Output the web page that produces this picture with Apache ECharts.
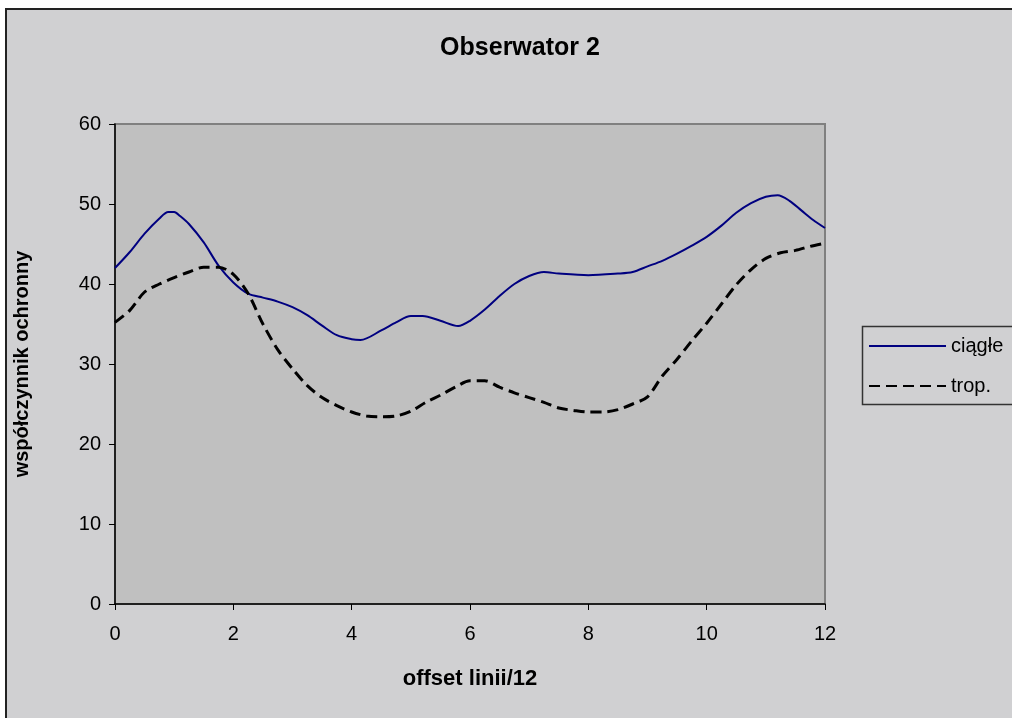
<!DOCTYPE html>
<html>
<head>
<meta charset="utf-8">
<script src="https://cdn.jsdelivr.net/npm/echarts@6/dist/echarts.min.js"></script>
<style>
  html, body { margin: 0; padding: 0; background: #ffffff; }
  #chart { width: 1012px; height: 718px; }
</style>
</head>
<body>
<div id="chart"></div>
<script>
// Offset positions (offset linii/12) and coefficients for each series
const xCiagle = [0, 0.25, 0.5, 0.75, 0.9, 1.0, 1.1, 1.25, 1.5, 1.75, 2.0, 2.25, 2.5, 2.75, 3.0, 3.25, 3.5, 3.75, 4.0, 4.15, 4.5, 4.75, 5.0, 5.2, 5.5, 5.8, 6.0, 6.25, 6.5, 6.75, 7.0, 7.25, 7.5, 8.0, 8.5, 8.75, 9.0, 9.25, 9.5, 9.75, 10.0, 10.25, 10.5, 10.75, 11.0, 11.2, 11.4, 11.6, 11.8, 12];
const yCiagle = [42, 44, 46.3, 48.2, 49, 49, 48.5, 47.5, 45.2, 42.3, 40.2, 38.8, 38.3, 37.8, 37.1, 36.1, 34.8, 33.6, 33.1, 33.0, 34.2, 35.2, 36, 36, 35.4, 34.75, 35.4, 36.8, 38.5, 40, 41, 41.5, 41.3, 41.1, 41.3, 41.5, 42.2, 42.9, 43.8, 44.8, 45.9, 47.3, 48.9, 50.1, 50.9, 51.1, 50.4, 49.2, 48, 47];

const xTrop = [0, 0.25, 0.5, 0.75, 1.0, 1.25, 1.5, 1.75, 2.0, 2.25, 2.5, 2.75, 3.0, 3.25, 3.5, 3.75, 4.0, 4.25, 4.5, 4.75, 5.0, 5.25, 5.5, 5.75, 6.0, 6.25, 6.5, 6.75, 7.0, 7.25, 7.5, 7.75, 8.0, 8.25, 8.5, 8.75, 9.0, 9.25, 9.5, 9.75, 10.0, 10.25, 10.5, 10.75, 11.0, 11.25, 11.5, 11.75, 12];
const yTrop = [35.2, 36.7, 39.0, 40.0, 40.8, 41.5, 42.1, 42.1, 41.2, 38.8, 35.0, 31.8, 29.4, 27.3, 25.8, 24.8, 24.0, 23.5, 23.4, 23.5, 24.1, 25.2, 26.1, 27.1, 27.9, 27.9, 27.1, 26.4, 25.8, 25.2, 24.5, 24.2, 24.0, 24.0, 24.3, 25.0, 25.9, 28.5, 30.6, 32.9, 35.1, 37.5, 39.9, 41.8, 43.2, 43.9, 44.2, 44.7, 45.1];

const xTicks = [0, 2, 4, 6, 8, 10, 12];
const yTicks = [0, 10, 20, 30, 40, 50, 60];

const chartTitle = 'Obserwator 2';
const xName = 'offset linii/12';
const yName = 'współczynnik ochronny';
const seriesNames = ['ciągłe', 'trop.'];

const pairs = (xs, ys) => xs.map((x, i) => [x, ys[i]]);

const FONT = '"Liberation Sans", Arial, sans-serif';
const BG = '#D0D0D2';

const chart = echarts.init(document.getElementById('chart'));
chart.setOption({
  backgroundColor: '#ffffff',
  animation: false,
  textStyle: { fontFamily: FONT, color: '#000' },
  graphic: [
    {
      // chart-area frame
      type: 'rect', z: -10, silent: true,
      shape: { x: 6, y: 9, width: 1020, height: 720 },
      style: { fill: BG, stroke: '#222', lineWidth: 2 }
    },
    {
      // legend box
      type: 'rect', z: 5, silent: true,
      shape: { x: 862.5, y: 326.5, width: 170, height: 78 },
      style: { fill: BG, stroke: '#333', lineWidth: 1.5 }
    }
  ],
  title: {
    text: chartTitle,
    left: 515,
    top: 31,
    textAlign: 'center',
    textStyle: { fontFamily: FONT, fontSize: 25, fontWeight: 'bold', color: '#000' }
  },
  legend: {
    orient: 'vertical',
    left: 868,
    top: 336,
    z: 10,
    itemWidth: 77,
    itemHeight: 20,
    itemGap: 20,
    padding: 0,
    data: seriesNames,
    itemStyle: { opacity: 0 },
    textStyle: { fontFamily: FONT, fontSize: 20, color: '#000', padding: [0, 0, 0, 0] }
  },
  grid: {
    left: 115,
    right: 187,
    top: 124,
    bottom: 114,
    show: true,
    backgroundColor: '#C0C0C0',
    borderColor: '#808080',
    borderWidth: 2
  },
  xAxis: {
    type: 'value',
    min: xTicks[0],
    max: xTicks[xTicks.length - 1],
    interval: 2,
    name: xName,
    nameLocation: 'middle',
    nameGap: 64,
    nameTextStyle: { fontFamily: FONT, fontSize: 22, fontWeight: 'bold', color: '#000' },
    axisLine: { show: true, onZero: false, lineStyle: { color: '#000', width: 1.5 } },
    axisTick: { show: true, inside: false, length: 6, lineStyle: { color: '#000' } },
    axisLabel: { margin: 20, fontFamily: FONT, fontSize: 20, color: '#000' },
    splitLine: { show: false }
  },
  yAxis: {
    type: 'value',
    min: yTicks[0],
    max: yTicks[yTicks.length - 1],
    interval: 10,
    name: yName,
    nameLocation: 'middle',
    nameGap: 83,
    nameTextStyle: { fontFamily: FONT, fontSize: 20, fontWeight: 'bold', color: '#000' },
    axisLine: { show: true, lineStyle: { color: '#000', width: 1.5 } },
    axisTick: { show: true, inside: false, length: 6, lineStyle: { color: '#000' } },
    axisLabel: { margin: 14, fontFamily: FONT, fontSize: 20, color: '#000' },
    splitLine: { show: false }
  },
  series: [
    {
      name: seriesNames[0],
      type: 'line',
      data: pairs(xCiagle, yCiagle),
      smooth: 0.3,
      symbol: 'none',
      lineStyle: { color: '#000080', width: 2 },
      itemStyle: { color: '#000080' }
    },
    {
      name: seriesNames[1],
      type: 'line',
      data: pairs(xTrop, yTrop),
      smooth: 0.3,
      symbol: 'none',
      lineStyle: { color: '#000', width: 3, type: [11, 6] },
      itemStyle: { color: '#000' }
    }
  ]
});
</script>
</body>
</html>
